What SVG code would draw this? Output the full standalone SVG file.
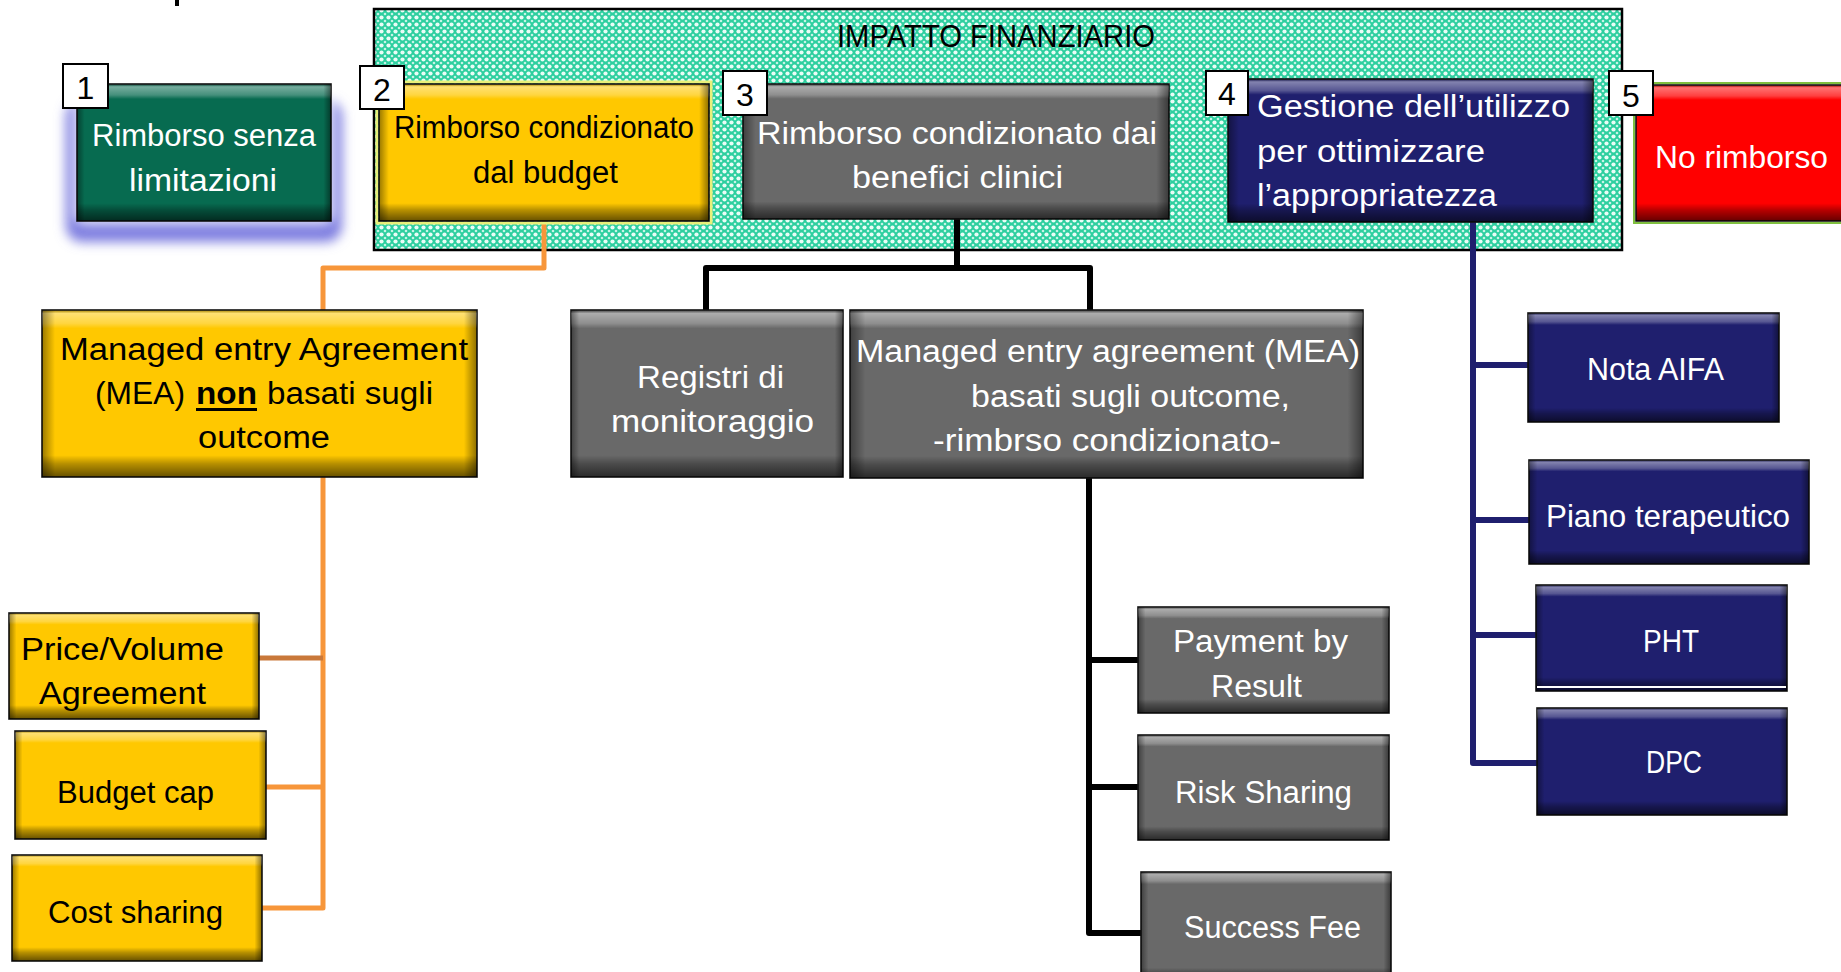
<svg xmlns="http://www.w3.org/2000/svg" width="1841" height="972" viewBox="0 0 1841 972">
<style>
text{font-family:"Liberation Sans",Arial,sans-serif;}
.t{font-size:31px;text-anchor:start;}
.w{fill:#ffffff;}
.k{fill:#000000;}
.num{font-size:32px;fill:#000;text-anchor:middle;}
.lbl{fill:#ffffff;stroke:#000;stroke-width:2;}
.box{stroke:#111;stroke-width:1.6;}
.bv{fill:url(#bevV);}
.bh{fill:url(#bevH);}
.green{fill:#076b50;}
.gold{fill:#ffc800;}
.gray{fill:#696969;}
.navy{fill:#1f1f6e;}
.red{fill:#ff0000;}
.cb{fill:none;stroke:#000;stroke-width:6;stroke-linejoin:round;stroke-linecap:round;}
.co{fill:none;stroke:#f7963a;stroke-width:5;stroke-linejoin:round;}
.cn{fill:none;stroke:#1f1f6e;stroke-width:6;stroke-linejoin:round;stroke-linecap:round;}
</style>
<defs>
<linearGradient id="bevV" x1="0" y1="0" x2="0" y2="1">
<stop offset="0" stop-color="#000" stop-opacity="0.35"/>
<stop offset="0.02" stop-color="#fff" stop-opacity="0.45"/>
<stop offset="0.08" stop-color="#fff" stop-opacity="0.25"/>
<stop offset="0.11" stop-color="#fff" stop-opacity="0"/>
<stop offset="0.87" stop-color="#000" stop-opacity="0"/>
<stop offset="0.92" stop-color="#000" stop-opacity="0.28"/>
<stop offset="1" stop-color="#000" stop-opacity="0.6"/>
</linearGradient>
<linearGradient id="bevH" x1="0" y1="0" x2="1" y2="0">
<stop offset="0" stop-color="#000" stop-opacity="0.4"/>
<stop offset="0.03" stop-color="#000" stop-opacity="0"/>
<stop offset="0.97" stop-color="#000" stop-opacity="0"/>
<stop offset="1" stop-color="#000" stop-opacity="0.45"/>
</linearGradient>
<pattern id="mint" x="0" y="0" width="7" height="7" patternUnits="userSpaceOnUse">
<rect width="7" height="7" fill="#2dcf9f"/>
<circle cx="3.5" cy="3.5" r="2.1" fill="#eafcf6"/>
<circle cx="0" cy="0" r="1.3" fill="#c6f4e6"/>
<circle cx="7" cy="0" r="1.3" fill="#c6f4e6"/>
<circle cx="0" cy="7" r="1.3" fill="#c6f4e6"/>
<circle cx="7" cy="7" r="1.3" fill="#c6f4e6"/>
</pattern>
<filter id="glow" x="-20%" y="-30%" width="140%" height="170%">
<feGaussianBlur stdDeviation="6"/>
</filter>
</defs>

<rect width="1841" height="972" fill="#ffffff"/>
<rect x="175" y="0" width="4" height="6" fill="#000"/>

<g id="container">
<rect x="374" y="9" width="1248" height="241" fill="url(#mint)" stroke="#000" stroke-width="2.5"/>
<text class="t k" x="837" y="47" textLength="318" lengthAdjust="spacingAndGlyphs">IMPATTO FINANZIARIO</text>
</g>

<g id="connectors">
<polyline class="co" points="544,221 544,268 323,268 323,310"/>
<polyline class="co" points="323,477 323,908 262,908"/>
<line class="co" x1="323" y1="787" x2="266" y2="787"/>
<line x1="323" y1="658" x2="259" y2="658" stroke="#c9783a" stroke-width="5"/>
<line class="cb" x1="957" y1="219" x2="957" y2="268"/>
<polyline class="cb" points="706,310 706,268 1090,268 1090,310"/>
<polyline class="cb" points="1089,478 1089,933 1141,933"/>
<line class="cb" x1="1089" y1="660" x2="1138" y2="660"/>
<line class="cb" x1="1089" y1="787" x2="1138" y2="787"/>
<polyline class="cn" points="1473,222 1473,763 1537,763"/>
<line class="cn" x1="1473" y1="365" x2="1528" y2="365"/>
<line class="cn" x1="1473" y1="520" x2="1529" y2="520"/>
<line class="cn" x1="1473" y1="635" x2="1536" y2="635"/>
</g>

<g id="n1">
<rect x="66" y="100" width="276" height="142" rx="16" fill="#7d7de0" filter="url(#glow)"/>
<rect x="74" y="86" width="260" height="138" rx="10" fill="#ffffff" opacity="0.85" filter="url(#glow)"/>
<rect class="box green" x="77" y="84" width="254" height="137"/>
<rect class="bv" x="77" y="84" width="254" height="137"/>
<rect class="bh" x="77" y="84" width="254" height="137"/>
<text class="t w" x="92" y="146" textLength="224" lengthAdjust="spacingAndGlyphs">Rimborso senza</text>
<text class="t w" x="129" y="191" textLength="148" lengthAdjust="spacingAndGlyphs">limitazioni</text>
<rect class="lbl" x="63" y="64" width="45" height="44"/>
<text class="num" x="85.5" y="99">1</text>
</g>

<g id="n2">
<rect x="377" y="82" width="334" height="141" fill="none" stroke="#e8f07a" stroke-width="3"/>
<rect class="box gold" x="379" y="84" width="330" height="137"/>
<rect class="bv" x="379" y="84" width="330" height="137"/>
<rect class="bh" x="379" y="84" width="330" height="137"/>
<text class="t k" x="394" y="138" textLength="300" lengthAdjust="spacingAndGlyphs">Rimborso condizionato</text>
<text class="t k" x="473" y="183" textLength="145" lengthAdjust="spacingAndGlyphs">dal budget</text>
<rect class="lbl" x="360" y="66" width="44" height="43"/>
<text class="num" x="382" y="101">2</text>
</g>

<g id="n3">
<rect class="box gray" x="743" y="84" width="426" height="135"/>
<rect class="bv" x="743" y="84" width="426" height="135"/>
<rect class="bh" x="743" y="84" width="426" height="135"/>
<text class="t w" x="757" y="144" textLength="400" lengthAdjust="spacingAndGlyphs">Rimborso condizionato dai</text>
<text class="t w" x="852" y="188" textLength="211" lengthAdjust="spacingAndGlyphs">benefici clinici</text>
<rect class="lbl" x="723" y="71" width="44" height="44"/>
<text class="num" x="745" y="106">3</text>
</g>

<g id="n4">
<rect class="box navy" x="1228" y="79" width="365" height="143" stroke="#6a6ab0"/>
<rect class="bv" x="1228" y="79" width="365" height="143"/>
<rect class="bh" x="1228" y="79" width="365" height="143"/>
<text class="t w" x="1257" y="117" textLength="313" lengthAdjust="spacingAndGlyphs">Gestione dell’utilizzo</text>
<text class="t w" x="1257" y="162" textLength="228" lengthAdjust="spacingAndGlyphs">per ottimizzare</text>
<text class="t w" x="1257" y="206" textLength="240" lengthAdjust="spacingAndGlyphs">l’appropriatezza</text>
<rect class="lbl" x="1206" y="71" width="42" height="44"/>
<text class="num" x="1227" y="105">4</text>
</g>

<g id="n5">
<rect x="1634" y="83" width="220" height="140" fill="none" stroke="#7fbf3f" stroke-width="2"/>
<rect class="box red" x="1636" y="85" width="215" height="136" stroke-width="2.5"/>
<rect class="bv" x="1636" y="85" width="215" height="136"/>
<text class="t w" x="1655" y="168" font-size="32" textLength="173" lengthAdjust="spacingAndGlyphs">No rimborso</text>
<rect class="lbl" x="1609" y="71" width="44" height="44"/>
<text class="num" x="1631" y="107">5</text>
</g>

<g id="n-mea-non">
<rect class="box gold" x="42" y="310" width="435" height="167" stroke="#000" stroke-width="3"/>
<rect class="bv" x="42" y="310" width="435" height="167"/>
<rect class="bh" x="42" y="310" width="435" height="167"/>
<text class="t k" x="60" y="360" textLength="408" lengthAdjust="spacingAndGlyphs">Managed entry Agreement</text>
<text class="t k" x="95" y="404" textLength="90" lengthAdjust="spacingAndGlyphs">(MEA)</text>
<text class="t k" x="196" y="404" font-weight="bold" textLength="61" lengthAdjust="spacingAndGlyphs">non</text>
<rect x="196" y="408" width="61" height="3" fill="#000"/>
<text class="t k" x="267" y="404" textLength="166" lengthAdjust="spacingAndGlyphs">basati sugli</text>
<text class="t k" x="198" y="448" textLength="132" lengthAdjust="spacingAndGlyphs">outcome</text>
</g>

<g id="n-registri">
<rect class="box gray" x="571" y="310" width="272" height="167" stroke="#000" stroke-width="2"/>
<rect class="bv" x="571" y="310" width="272" height="167"/>
<rect class="bh" x="571" y="310" width="272" height="167"/>
<text class="t w" x="637" y="388" textLength="147" lengthAdjust="spacingAndGlyphs">Registri di</text>
<text class="t w" x="611" y="432" textLength="203" lengthAdjust="spacingAndGlyphs">monitoraggio</text>
</g>

<g id="n-mea-outcome">
<rect class="box gray" x="850" y="310" width="513" height="168" stroke="#444"/>
<rect class="bv" x="850" y="310" width="513" height="168"/>
<rect class="bh" x="850" y="310" width="513" height="168"/>
<text class="t w" x="856" y="362" textLength="504" lengthAdjust="spacingAndGlyphs">Managed entry agreement (MEA)</text>
<text class="t w" x="971" y="407" textLength="319" lengthAdjust="spacingAndGlyphs">basati sugli outcome,</text>
<text class="t w" x="933" y="451" textLength="348" lengthAdjust="spacingAndGlyphs">-rimbrso condizionato-</text>
</g>

<g id="n-payment">
<rect class="box gray" x="1138" y="607" width="251" height="106" stroke="#000" stroke-width="2"/>
<rect class="bv" x="1138" y="607" width="251" height="106"/>
<rect class="bh" x="1138" y="607" width="251" height="106"/>
<text class="t w" x="1173" y="652" textLength="175" lengthAdjust="spacingAndGlyphs">Payment by</text>
<text class="t w" x="1211" y="697" textLength="91" lengthAdjust="spacingAndGlyphs">Result</text>
</g>

<g id="n-risk">
<rect class="box gray" x="1138" y="735" width="251" height="105" stroke="#000" stroke-width="2"/>
<rect class="bv" x="1138" y="735" width="251" height="105"/>
<rect class="bh" x="1138" y="735" width="251" height="105"/>
<text class="t w" x="1175" y="803" textLength="177" lengthAdjust="spacingAndGlyphs">Risk Sharing</text>
</g>

<g id="n-success">
<rect class="box gray" x="1141" y="872" width="250" height="110" stroke="#555"/>
<rect class="bv" x="1141" y="872" width="250" height="110"/>
<rect class="bh" x="1141" y="872" width="250" height="110"/>
<text class="t w" x="1184" y="938" textLength="177" lengthAdjust="spacingAndGlyphs">Success Fee</text>
</g>

<g id="n-nota">
<rect class="box navy" x="1528" y="313" width="251" height="109" stroke="#000"/>
<rect class="bv" x="1528" y="313" width="251" height="109"/>
<rect class="bh" x="1528" y="313" width="251" height="109"/>
<text class="t w" x="1587" y="380" textLength="137" lengthAdjust="spacingAndGlyphs">Nota AIFA</text>
</g>

<g id="n-piano">
<rect class="box navy" x="1529" y="460" width="280" height="104" stroke="#000"/>
<rect class="bv" x="1529" y="460" width="280" height="104"/>
<rect class="bh" x="1529" y="460" width="280" height="104"/>
<text class="t w" x="1546" y="527" textLength="244" lengthAdjust="spacingAndGlyphs">Piano terapeutico</text>
</g>

<g id="n-pht">
<rect class="box navy" x="1536" y="585" width="251" height="106" stroke="#000"/>
<rect class="bv" x="1536" y="585" width="251" height="106"/>
<rect class="bh" x="1536" y="585" width="251" height="106"/>
<rect x="1537" y="686" width="249" height="2" fill="#ffffff"/>
<text class="t w" x="1643" y="652" textLength="56" lengthAdjust="spacingAndGlyphs">PHT</text>
</g>

<g id="n-dpc">
<rect class="box navy" x="1537" y="708" width="250" height="107" stroke="#1f1f6e"/>
<rect class="bv" x="1537" y="708" width="250" height="107"/>
<rect class="bh" x="1537" y="708" width="250" height="107"/>
<text class="t w" x="1646" y="773" textLength="56" lengthAdjust="spacingAndGlyphs">DPC</text>
</g>

<g id="n-price">
<rect class="box gold" x="9" y="613" width="250" height="106" stroke="#c9a000"/>
<rect class="bv" x="9" y="613" width="250" height="106"/>
<rect class="bh" x="9" y="613" width="250" height="106"/>
<text class="t k" x="21" y="660" font-size="33" textLength="203" lengthAdjust="spacingAndGlyphs">Price/Volume</text>
<text class="t k" x="39" y="704" font-size="33" textLength="167" lengthAdjust="spacingAndGlyphs">Agreement</text>
</g>

<g id="n-budget">
<rect class="box gold" x="15" y="731" width="251" height="108" stroke="#000" stroke-width="2"/>
<rect class="bv" x="15" y="731" width="251" height="108"/>
<rect class="bh" x="15" y="731" width="251" height="108"/>
<text class="t k" x="57" y="803" font-size="33" textLength="157" lengthAdjust="spacingAndGlyphs">Budget cap</text>
</g>

<g id="n-cost">
<rect class="box gold" x="12" y="855" width="250" height="106" stroke="#000" stroke-width="2"/>
<rect class="bv" x="12" y="855" width="250" height="106"/>
<rect class="bh" x="12" y="855" width="250" height="106"/>
<text class="t k" x="48" y="923" font-size="33" textLength="175" lengthAdjust="spacingAndGlyphs">Cost sharing</text>
</g>
</svg>
